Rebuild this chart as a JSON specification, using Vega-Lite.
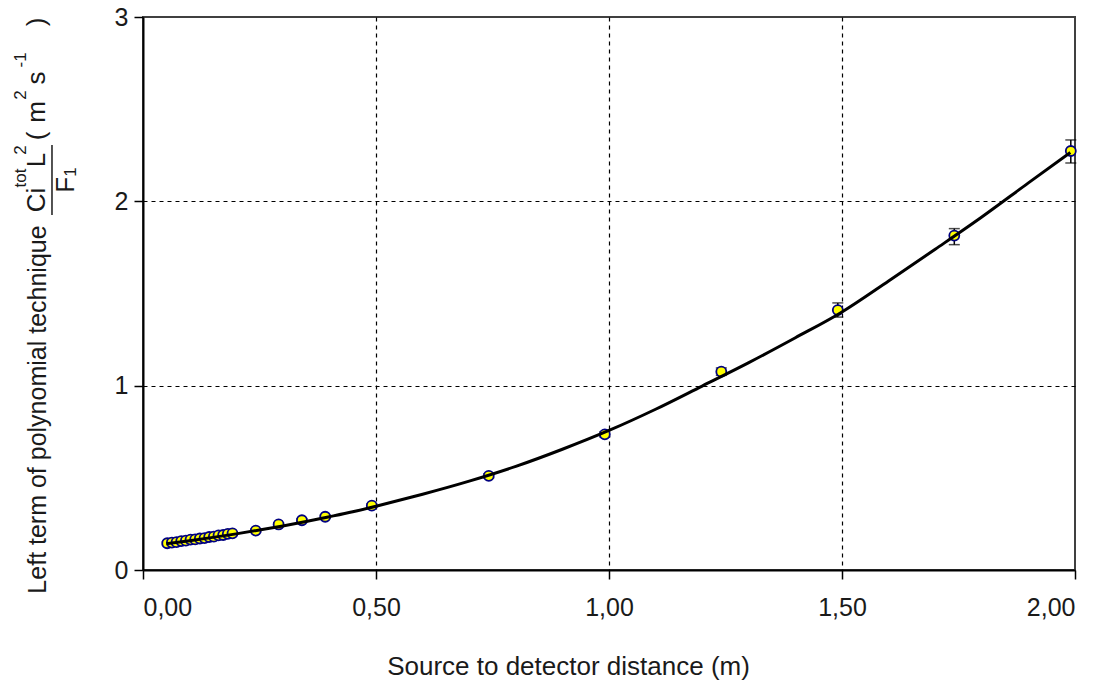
{
  "$schema": "https://vega.github.io/schema/vega-lite/v6.json",
  "width": 932,
  "height": 553,
  "autosize": {"type": "none"},
  "padding": {"left": 143, "top": 17, "right": 33, "bottom": 113},
  "background": "white",
  "config": {
    "locale": {"number": {"decimal": ",", "thousands": ".", "grouping": [3], "currency": ["", ""]}},
    "view": {"stroke": "#404040", "strokeWidth": 2},
    "font": "Liberation Sans",
    "text": {"font": "Liberation Sans", "color": "#1a1a1a", "angle": 270, "align": "center", "baseline": "middle"},
    "axis": {
      "domainColor": "black",
      "domainWidth": 2,
      "tickColor": "black",
      "tickWidth": 1.5,
      "tickSize": 9,
      "labelFont": "Liberation Sans",
      "labelFontSize": 25,
      "labelColor": "#1a1a1a",
      "titleFont": "Liberation Sans",
      "titleFontSize": 26,
      "titleFontWeight": "normal",
      "titleColor": "#1a1a1a",
      "gridColor": "black",
      "gridDash": [4, 4],
      "gridWidth": 1.2
    }
  },
  "datasets": {
    "pts": [
      {"x": 0.052, "y": 0.145, "lo": 0.138, "hi": 0.152},
      {"x": 0.062, "y": 0.149, "lo": 0.142, "hi": 0.156},
      {"x": 0.072, "y": 0.151, "lo": 0.144, "hi": 0.158},
      {"x": 0.082, "y": 0.157, "lo": 0.150, "hi": 0.164},
      {"x": 0.092, "y": 0.159, "lo": 0.152, "hi": 0.166},
      {"x": 0.102, "y": 0.165, "lo": 0.158, "hi": 0.172},
      {"x": 0.112, "y": 0.166, "lo": 0.159, "hi": 0.173},
      {"x": 0.122, "y": 0.171, "lo": 0.164, "hi": 0.178},
      {"x": 0.132, "y": 0.173, "lo": 0.166, "hi": 0.180},
      {"x": 0.142, "y": 0.179, "lo": 0.172, "hi": 0.186},
      {"x": 0.152, "y": 0.181, "lo": 0.174, "hi": 0.188},
      {"x": 0.162, "y": 0.188, "lo": 0.181, "hi": 0.195},
      {"x": 0.172, "y": 0.190, "lo": 0.183, "hi": 0.197},
      {"x": 0.182, "y": 0.196, "lo": 0.189, "hi": 0.203},
      {"x": 0.192, "y": 0.199, "lo": 0.192, "hi": 0.206},
      {"x": 0.242, "y": 0.214, "lo": 0.206, "hi": 0.222},
      {"x": 0.291, "y": 0.247, "lo": 0.239, "hi": 0.255},
      {"x": 0.341, "y": 0.270, "lo": 0.262, "hi": 0.278},
      {"x": 0.391, "y": 0.289, "lo": 0.281, "hi": 0.297},
      {"x": 0.491, "y": 0.349, "lo": 0.340, "hi": 0.358},
      {"x": 0.742, "y": 0.511, "lo": 0.500, "hi": 0.522},
      {"x": 0.991, "y": 0.736, "lo": 0.722, "hi": 0.750},
      {"x": 1.241, "y": 1.076, "lo": 1.056, "hi": 1.096},
      {"x": 1.491, "y": 1.410, "lo": 1.372, "hi": 1.449},
      {"x": 1.741, "y": 1.814, "lo": 1.765, "hi": 1.852},
      {"x": 1.991, "y": 2.273, "lo": 2.208, "hi": 2.333}
    ],
    "fit": [
      {"x": 0.05, "y": 0.143},
      {"x": 0.10, "y": 0.159},
      {"x": 0.15, "y": 0.177},
      {"x": 0.20, "y": 0.196},
      {"x": 0.25, "y": 0.217},
      {"x": 0.30, "y": 0.239},
      {"x": 0.35, "y": 0.263},
      {"x": 0.40, "y": 0.289},
      {"x": 0.45, "y": 0.316},
      {"x": 0.50, "y": 0.346},
      {"x": 0.55, "y": 0.378},
      {"x": 0.60, "y": 0.411},
      {"x": 0.70, "y": 0.482},
      {"x": 0.80, "y": 0.562},
      {"x": 0.90, "y": 0.655},
      {"x": 1.00, "y": 0.757},
      {"x": 1.10, "y": 0.872},
      {"x": 1.20, "y": 0.998},
      {"x": 1.30, "y": 1.125},
      {"x": 1.40, "y": 1.260},
      {"x": 1.50, "y": 1.400},
      {"x": 1.60, "y": 1.568},
      {"x": 1.70, "y": 1.740},
      {"x": 1.80, "y": 1.915},
      {"x": 1.90, "y": 2.100},
      {"x": 1.99, "y": 2.265}
    ],
    "one": [{}]
  },
  "layer": [
    {
      "data": {"name": "pts"},
      "mark": {"type": "rule", "color": "black", "strokeWidth": 1.5},
      "encoding": {
        "x": {
          "field": "x", "type": "quantitative",
          "scale": {"domain": [0, 2], "nice": false, "zero": false},
          "axis": {
            "values": [0, 0.5, 1, 1.5, 2],
            "format": ".2f",
            "title": "Source to detector distance (m)",
            "labelPadding": 16,
            "titleX": 425,
            "titleY": 104,
            "titleBaseline": "alphabetic",
            "titleAnchor": null,
            "titleAlign": "center",
            "gridOpacity": {"condition": {"test": "datum.value <= 0 || datum.value >= 2", "value": 0}, "value": 1}
          }
        },
        "y": {
          "field": "lo", "type": "quantitative",
          "scale": {"domain": [0, 3], "nice": false, "zero": false},
          "axis": {
            "values": [0, 1, 2, 3],
            "format": "d",
            "title": "Left term of polynomial technique",
            "titleFontSize": 25,
            "labelPadding": 6,
            "titleAngle": 270,
            "titleX": -106,
            "titleY": 392,
            "titleAlign": "center",
            "titleBaseline": "middle",
            "titleAnchor": null,
            "gridOpacity": {"condition": {"test": "datum.value <= 0 || datum.value >= 3", "value": 0}, "value": 1}
          }
        },
        "y2": {"field": "hi"}
      }
    },
    {
      "data": {"name": "pts"},
      "mark": {"type": "tick", "orient": "horizontal", "color": "black", "size": 11, "thickness": 1.5},
      "encoding": {
        "x": {"field": "x", "type": "quantitative"},
        "y": {"field": "lo", "type": "quantitative"}
      }
    },
    {
      "data": {"name": "pts"},
      "mark": {"type": "tick", "orient": "horizontal", "color": "black", "size": 11, "thickness": 1.5},
      "encoding": {
        "x": {"field": "x", "type": "quantitative"},
        "y": {"field": "hi", "type": "quantitative"}
      }
    },
    {
      "data": {"name": "pts"},
      "mark": {"type": "point", "shape": "circle", "filled": true, "fill": "#FFFF00", "stroke": "#000080", "strokeWidth": 1.8, "size": 100, "opacity": 1},
      "encoding": {
        "x": {"field": "x", "type": "quantitative"},
        "y": {"field": "y", "type": "quantitative"}
      }
    },
    {
      "data": {"name": "fit"},
      "mark": {"type": "line", "color": "black", "strokeWidth": 3, "interpolate": "monotone"},
      "encoding": {
        "x": {"field": "x", "type": "quantitative"},
        "y": {"field": "y", "type": "quantitative"}
      }
    },
    {
      "data": {"name": "one"},
      "mark": {"type": "text", "text": "Ci", "fontSize": 26},
      "encoding": {"x": {"datum": -0.2275}, "y": {"datum": 2.007}}
    },
    {
      "data": {"name": "one"},
      "mark": {"type": "text", "text": "tot", "fontSize": 17},
      "encoding": {"x": {"datum": -0.2618}, "y": {"datum": 2.127}}
    },
    {
      "data": {"name": "one"},
      "mark": {"type": "text", "text": "L", "fontSize": 26},
      "encoding": {"x": {"datum": -0.2275}, "y": {"datum": 2.224}}
    },
    {
      "data": {"name": "one"},
      "mark": {"type": "text", "text": "2", "fontSize": 17},
      "encoding": {"x": {"datum": -0.2618}, "y": {"datum": 2.279}}
    },
    {
      "data": {"name": "one"},
      "mark": {"type": "rule", "color": "#1a1a1a", "strokeWidth": 1.5},
      "encoding": {"x": {"datum": -0.1953}, "y": {"datum": 1.926}, "y2": {"datum": 2.306}}
    },
    {
      "data": {"name": "one"},
      "mark": {"type": "text", "text": "F", "fontSize": 26},
      "encoding": {"x": {"datum": -0.1652}, "y": {"datum": 2.089}}
    },
    {
      "data": {"name": "one"},
      "mark": {"type": "text", "text": "1", "fontSize": 17},
      "encoding": {"x": {"datum": -0.1545}, "y": {"datum": 2.159}}
    },
    {
      "data": {"name": "one"},
      "mark": {"type": "text", "text": "(", "fontSize": 26},
      "encoding": {"x": {"datum": -0.2275}, "y": {"datum": 2.355}}
    },
    {
      "data": {"name": "one"},
      "mark": {"type": "text", "text": "m", "fontSize": 26},
      "encoding": {"x": {"datum": -0.2275}, "y": {"datum": 2.485}}
    },
    {
      "data": {"name": "one"},
      "mark": {"type": "text", "text": "2", "fontSize": 17},
      "encoding": {"x": {"datum": -0.2618}, "y": {"datum": 2.577}}
    },
    {
      "data": {"name": "one"},
      "mark": {"type": "text", "text": "s", "fontSize": 26},
      "encoding": {"x": {"datum": -0.2275}, "y": {"datum": 2.669}}
    },
    {
      "data": {"name": "one"},
      "mark": {"type": "text", "text": "-1", "fontSize": 17},
      "encoding": {"x": {"datum": -0.2618}, "y": {"datum": 2.767}}
    },
    {
      "data": {"name": "one"},
      "mark": {"type": "text", "text": ")", "fontSize": 26},
      "encoding": {"x": {"datum": -0.2275}, "y": {"datum": 2.973}}
    }
  ]
}
